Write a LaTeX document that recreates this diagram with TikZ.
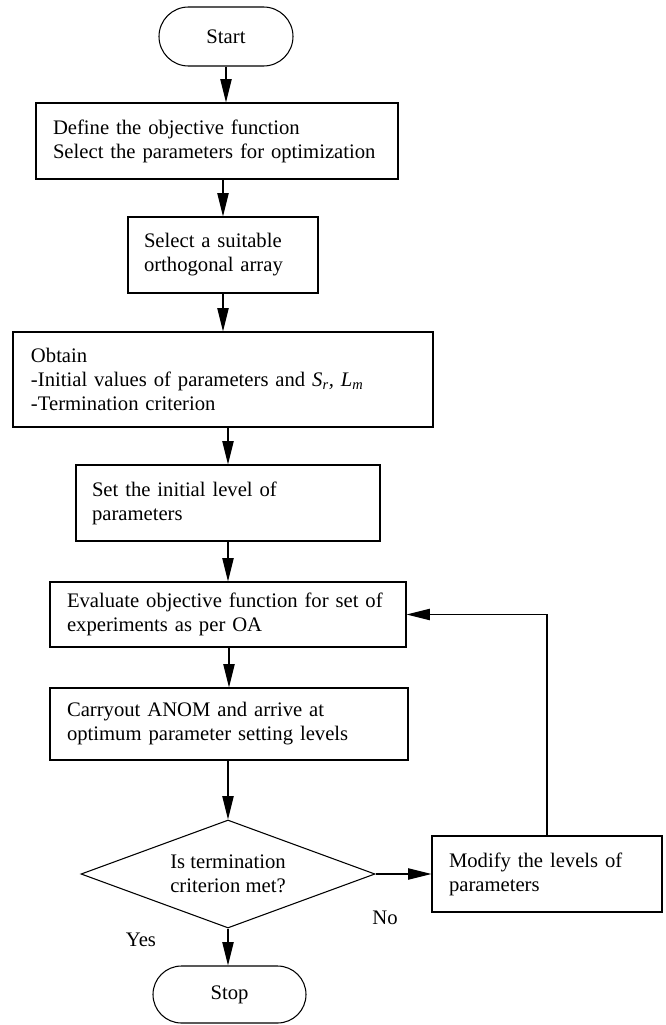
\documentclass[tikz,border=0pt]{standalone}
\usepackage{fontspec}
\setmainfont{Liberation Serif}
\usetikzlibrary{shapes.geometric,shapes.misc,arrows.meta}
\begin{document}
\begin{tikzpicture}[x=0.75pt,y=-0.75pt,
  font=\fontsize{15.5}{18}\selectfont,
  box/.style={draw, line width=0.8pt, align=left, inner ysep=0pt},
  term/.style={draw, rounded rectangle, line width=0.8pt, inner sep=0pt},
  dec/.style={draw, diamond, aspect=2.72, inner sep=0pt, line width=0.8pt, align=left},
  arr/.style={-{Triangle[length=17.5pt,width=8.5pt]}, line width=0.8pt},
  lbl/.style={inner sep=0pt}]
\useasboundingbox (0,0) rectangle (665,1025);

\node[term, minimum width=100.5pt, minimum height=44.25pt] (start) at (226,36.5) {Start};
\node[box, text width=246pt, inner xsep=12.75pt, minimum height=57pt] (b1) at (217,141)
  {Define the objective function\\Select the parameters for optimization};
\node[box, text width=118.5pt, inner xsep=12pt, minimum height=57pt] (b2) at (223,255)
  {Select a suitable\\orthogonal array};
\node[box, text width=288pt, inner xsep=13.5pt, minimum height=71.25pt] (b3) at (223,379.5)
  {Obtain\\-Initial values of parameters and \textit{S\textsubscript{r}, L\textsubscript{m}}\\-Termination criterion};
\node[box, text width=204pt, inner xsep=12pt, minimum height=57pt] (b4) at (228,503)
  {Set the initial level of\\parameters};
\node[box, text width=241.5pt, inner xsep=12.75pt, minimum height=48.75pt] (b5) at (228,614.5)
  {Evaluate objective function for set of\\experiments as per OA};
\node[box, text width=243pt, inner xsep=12.75pt, minimum height=54pt] (b6) at (229,724)
  {Carryout ANOM and arrive at\\optimum parameter setting levels};
\node[dec, minimum width=220.5pt, minimum height=81pt] (dia) at (228,874)
  {Is termination\\criterion met?};
\node[box, text width=147pt, inner xsep=12.75pt, minimum height=57pt] (b7) at (547,874)
  {Modify the levels of\\parameters};
\node[term, minimum width=114.75pt, minimum height=42.75pt] (stop) at (229.5,994.5) {Stop};
\node[lbl] (yes) at (141,940) {Yes};
\node[lbl] (no) at (385,918) {No};

\draw[arr] (start.south) -- (start.south |- b1.north);
\draw[arr] (b2.north |- b1.south) -- (b2.north);
\draw[arr] (b2.south) -- (b2.south |- b3.north);
\draw[arr] (b4.north |- b3.south) -- (b4.north);
\draw[arr] (b4.south) -- (b4.south |- b5.north);
\draw[arr] (b6.north |- b5.south) -- (b6.north);
\draw[arr] (dia.north |- b6.south) -- (dia.north);
\draw[arr] (dia.south) -- (dia.south |- stop.north);
\draw[arr] (dia.east) -- (b7.west);
\draw[arr] (b7.north) |- (b5.east);
\end{tikzpicture}
\end{document}
